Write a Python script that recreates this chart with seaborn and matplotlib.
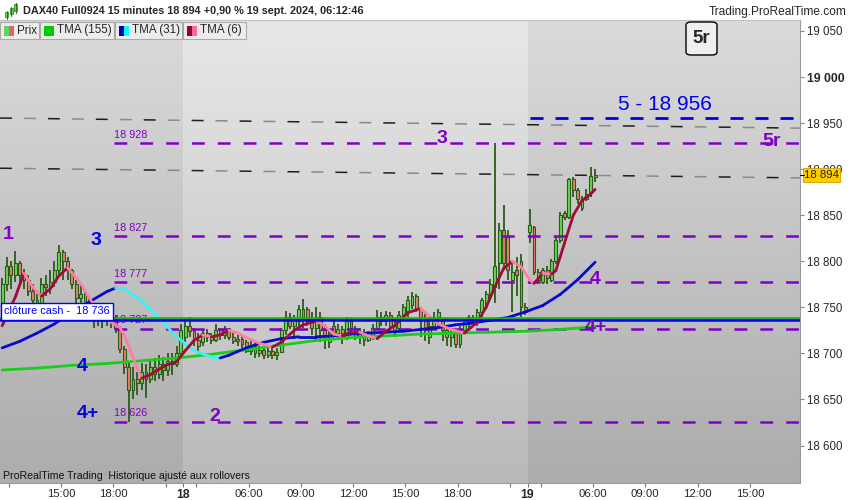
import numpy as np
import pandas as pd
import matplotlib
matplotlib.use("Agg")
import matplotlib.pyplot as plt
from matplotlib import font_manager
from matplotlib.collections import LineCollection
from matplotlib.colors import LinearSegmentedColormap
from matplotlib.patches import Rectangle, FancyBboxPatch
import seaborn as sns

# DAX40 Full0924, 15 min bars
# 17 sept 11:30-22:00 (42 bars), 18 sept 02:15-22:00 (79), 19 sept 02:15-06:15 (16)
opens = [
    18745, 18775, 18795, 18785, 18798, 18785, 18780, 18768, 18758, 18752,
    18775, 18772, 18778, 18790, 18810, 18800, 18790, 18775, 18760, 18765,
    18752, 18748, 18738, 18742, 18735, 18740, 18736, 18728, 18705, 18685,
    18660, 18672, 18668, 18680, 18672, 18685, 18678, 18688, 18682, 18692,
    18688, 18700,
    18718, 18730, 18724, 18715, 18712, 18722, 18718, 18714, 18725, 18720,
    18726, 18718, 18713, 18716, 18712, 18703, 18708, 18700, 18704, 18698,
    18703, 18698, 18702, 18725, 18740, 18730, 18735, 18748, 18748, 18735,
    18728, 18740, 18725, 18712, 18730, 18722, 18726, 18718, 18735, 18728,
    18718, 18722, 18715, 18718, 18728, 18740, 18735, 18742, 18730, 18728,
    18742, 18745, 18752, 18762, 18748, 18735, 18718, 18730, 18740, 18735,
    18725, 18718, 18722, 18710, 18725, 18732, 18738, 18736, 18745, 18755,
    18765, 18772, 18798, 18834, 18826, 18780, 18790, 18800, 18750,
    18832, 18837, 18788, 18778, 18790, 18780, 18800, 18823, 18852, 18848,
    18889, 18877, 18858, 18868, 18875, 18892,
]
highs = [
    18782, 18805, 18800, 18811, 18800, 18792, 18785, 18775, 18765, 18782,
    18785, 18790, 18800, 18818, 18812, 18805, 18792, 18780, 18775, 18770,
    18760, 18752, 18750, 18748, 18748, 18745, 18742, 18730, 18708, 18690,
    18685, 18680, 18690, 18688, 18692, 18695, 18698, 18696, 18700, 18700,
    18708, 18732,
    18738, 18740, 18728, 18722, 18727, 18726, 18722, 18732, 18728, 18730,
    18728, 18722, 18720, 18720, 18714, 18715, 18712, 18708, 18707, 18706,
    18706, 18706, 18728, 18746, 18744, 18742, 18752, 18759, 18750, 18745,
    18750, 18745, 18732, 18726, 18735, 18732, 18730, 18740, 18738, 18730,
    18728, 18726, 18724, 18732, 18747, 18745, 18746, 18745, 18738, 18746,
    18754, 18762, 18767, 18765, 18750, 18745, 18735, 18745, 18748, 18738,
    18730, 18728, 18726, 18730, 18736, 18742, 18742, 18748, 18760, 18768,
    18781, 18928, 18842, 18861, 18834, 18800, 18805, 18808, 18755,
    18857, 18838, 18792, 18793, 18795, 18802, 18826, 18853, 18855, 18890,
    18891, 18880, 18871, 18878, 18902, 18900,
]
lows = [
    18740, 18768, 18770, 18778, 18775, 18770, 18762, 18742, 18740, 18750,
    18762, 18765, 18772, 18785, 18780, 18780, 18770, 18752, 18748, 18745,
    18738, 18728, 18730, 18728, 18730, 18728, 18722, 18700, 18678, 18626,
    18650, 18655, 18660, 18652, 18668, 18670, 18672, 18670, 18675, 18676,
    18685, 18698,
    18712, 18718, 18708, 18703, 18708, 18712, 18710, 18712, 18714, 18716,
    18714, 18710, 18708, 18706, 18700, 18698, 18695, 18696, 18694, 18695,
    18694, 18693, 18700, 18720, 18726, 18716, 18730, 18728, 18730, 18720,
    18712, 18712, 18705, 18706, 18718, 18715, 18710, 18715, 18722, 18714,
    18710, 18708, 18712, 18714, 18725, 18730, 18730, 18722, 18718, 18725,
    18738, 18740, 18748, 18745, 18718, 18713, 18710, 18725, 18730, 18713,
    18708, 18707, 18706, 18706, 18722, 18728, 18732, 18730, 18740, 18748,
    18758, 18755, 18770, 18790, 18780, 18745, 18762, 18740, 18742,
    18820, 18785, 18776, 18775, 18775, 18777, 18797, 18820, 18845, 18846,
    18870, 18862, 18855, 18865, 18870, 18886,
]
closes = [
    18775, 18795, 18785, 18798, 18785, 18780, 18768, 18758, 18752, 18775,
    18772, 18778, 18790, 18810, 18800, 18790, 18775, 18760, 18765, 18752,
    18748, 18738, 18742, 18735, 18740, 18736, 18728, 18705, 18685, 18660,
    18672, 18668, 18680, 18672, 18685, 18678, 18688, 18682, 18692, 18688,
    18700, 18725,
    18730, 18724, 18715, 18708, 18722, 18718, 18714, 18725, 18720, 18726,
    18718, 18713, 18716, 18710, 18703, 18708, 18700, 18704, 18698, 18703,
    18698, 18702, 18725, 18740, 18730, 18738, 18748, 18740, 18735, 18728,
    18740, 18725, 18715, 18722, 18722, 18726, 18718, 18735, 18728, 18718,
    18722, 18715, 18720, 18728, 18740, 18735, 18742, 18730, 18725, 18742,
    18750, 18758, 18762, 18748, 18735, 18725, 18730, 18738, 18745, 18725,
    18718, 18722, 18710, 18725, 18732, 18740, 18736, 18745, 18758, 18765,
    18775, 18795, 18834, 18798, 18790, 18788, 18785, 18750, 18745,
    18839, 18788, 18780, 18790, 18782, 18800, 18823, 18850, 18848, 18889,
    18877, 18868, 18868, 18873, 18893, 18894,
]

# moving averages (bar index, value)
tma155_bar = [0, 8, 16, 24, 32, 40, 48, 56, 64, 72, 80, 88, 96, 104, 112, 120, 128, 136]
tma155 = [18682, 18684, 18687, 18689, 18692, 18695, 18699, 18704, 18709, 18714,
          18717, 18719, 18721, 18722, 18723, 18724, 18726, 18729]

tma31_bar = [0, 4, 8, 12, 16, 20, 24, 26, 28, 32, 36, 40, 44, 48, 50, 52, 56, 60, 64,
             68, 72, 76, 80, 84, 88, 92, 96, 100, 104, 108, 112, 116, 120, 124, 128, 132, 136]
tma31 = [18706, 18713, 18722, 18732, 18745, 18756, 18767, 18771, 18770, 18757, 18738,
         18718, 18703, 18696, 18695, 18698, 18706, 18712, 18716, 18718, 18718, 18719,
         18721, 18722, 18723, 18724, 18726, 18728, 18731, 18733, 18736, 18739, 18745,
         18752, 18764, 18780, 18799]

tma6_bar = [0, 3, 5, 7, 9, 11, 13, 15, 18, 20, 23, 25, 27, 28, 29, 30, 31, 32, 34, 36,
            38, 40, 42, 44, 46, 48, 50, 52, 54, 56, 59, 62, 64, 67, 69, 72, 74, 76, 78, 80,
            82, 84, 86, 88, 90, 93, 96, 98, 100, 103, 106, 109, 111, 113, 115, 117, 119,
            121, 122, 124, 126, 127, 128, 129, 131, 133, 135, 136]
tma6 = [18730, 18761, 18787, 18772, 18762, 18770, 18784, 18793, 18776, 18760, 18740,
        18734, 18728, 18720, 18708, 18696, 18683, 18673, 18677, 18683, 18688, 18691,
        18703, 18714, 18720, 18718, 18720, 18725, 18722, 18717, 18711, 18707, 18712,
        18725, 18731, 18735, 18730, 18721, 18719, 18723, 18723, 18719, 18716, 18724,
        18730, 18744, 18749, 18740, 18732, 18726, 18722, 18734, 18750, 18772, 18792,
        18800, 18794, 18780, 18776, 18787, 18786, 18790, 18805, 18820, 18850, 18866,
        18873, 18878]

# levels
purple_levels = [18928, 18827, 18777, 18727, 18626]
target_level = 18956
cash_close = 18736
cash_close_green = 18738.5
trend_upper = [18955.5, 18944.5]
trend_lower = [18901, 18890.5]
last_price = 18894

# ------------------------------------------------------------------
sns.set_style("white")
plt.rcParams["font.family"] = ["Liberation Sans", "DejaVu Sans"]
plt.rcParams["lines.scale_dashes"] = False


def has_font(name):
    try:
        font_manager.findfont(font_manager.FontProperties(family=name),
                              fallback_to_default=False)
        return True
    except ValueError:
        return False


NARROW = ["Liberation Sans Narrow", "DejaVu Sans"] if has_font("Liberation Sans Narrow") \
    else ["Liberation Sans", "DejaVu Sans"]

W, H = 850, 500
fig = plt.figure(figsize=(8.5, 5), dpi=100)
fig.patch.set_facecolor("white")
ax = fig.add_axes([0, 17 / H, 800 / W, 463 / H])

X0, X1 = -0.5, 183.0
Y0, Y1 = 18559.3, 19061.9
day_edges = [X0, 41.5, 120.5, X1]

# background: vertical gradient, alternating sessions
grad = np.linspace(0, 1, 256).reshape(-1, 1)
cm_dark = LinearSegmentedColormap.from_list("dk", ["#dbdbdb", "#acacac"])
cm_light = LinearSegmentedColormap.from_list("lt", ["#e8e8e8", "#b9b9b9"])
for k in range(3):
    ax.imshow(grad, extent=(day_edges[k], day_edges[k + 1], Y0, Y1),
              cmap=cm_light if k == 1 else cm_dark, aspect="auto",
              origin="upper", zorder=0, interpolation="bilinear")

# candles
WICK = "#2b5b19"
UP = "#5edc4c"
DOWN = "#e8806c"
o = np.array(opens, float)
c = np.array(closes, float)
hi = np.array(highs, float)
lo = np.array(lows, float)
bars = np.arange(len(c))
up = c >= o
body_lo = np.minimum(o, c)
body_h = np.maximum(np.abs(c - o), 1.3)
ax.vlines(bars, lo, hi, color=WICK, lw=1.3, zorder=2)
ax.bar(bars[up], body_h[up], bottom=body_lo[up], width=0.66, color=UP,
       edgecolor=WICK, linewidth=0.8, zorder=2.5)
ax.bar(bars[~up], body_h[~up], bottom=body_lo[~up], width=0.66, color=DOWN,
       edgecolor=WICK, linewidth=0.8, zorder=2.5)

# trend lines (alternating black / grey dashes)
for tl in (trend_upper, trend_lower):
    ax.plot([X0, X1], tl, color="#1e1e1e", lw=1.1, linestyle=(0, (8.6, 25.9)), zorder=3)
    ax.plot([X0, X1], tl, color="#8a8a8a", lw=1.1, linestyle=(17.3, (8.6, 25.9)), zorder=3)

# purple levels
PURPLE = "#8000c8"
lvl_x = 25.6
for lv in purple_levels:
    ax.plot([lvl_x, X1], [lv, lv], color=PURPLE, lw=1.8,
            linestyle=(0, (9.2, 9.4)), zorder=3)
    ax.text(lvl_x, lv + 3.5, f"{lv:,}".replace(",", " "), color=PURPLE,
            fontsize=7.8, ha="left", va="bottom", zorder=2.9)

# target level
BLUE = "#0000ee"
ax.plot([121, X1], [target_level, target_level], color=BLUE, lw=2.0,
        linestyle=(0, (9.4, 8.6)), zorder=3)
ax.text(152, 18970, "5 - 18 956", color=BLUE, fontsize=15, ha="center",
        va="center", zorder=6)

# moving averages
df155 = pd.DataFrame({"bar": tma155_bar, "tma": tma155})
sns.lineplot(data=df155, x="bar", y="tma", color="#1ccc1c", lw=2.0, ax=ax,
             zorder=4, legend=False)


def two_tone(xs, ys, rise, fall, lw):
    pts = np.column_stack([xs, ys]).astype(float)
    segs = np.stack([pts[:-1], pts[1:]], axis=1)
    cols = [rise if b >= a else fall for a, b in zip(ys[:-1], ys[1:])]
    ax.add_collection(LineCollection(segs, colors=cols, linewidths=lw,
                                     zorder=4, capstyle="round"))


two_tone(tma31_bar, tma31, "#0a0acc", "#3ef0f6", 2.0)
two_tone(tma6_bar, tma6, "#9e0c3c", "#ff7fa0", 2.0)

# previous cash close
ax.plot([X0, X1], [cash_close_green] * 2, color="#23a823", lw=1.8, zorder=5)
ax.plot([X0, X1], [cash_close] * 2, color="#0000ff", lw=1.8, zorder=5)
ax.add_patch(Rectangle((X0 + 0.15, cash_close), 25.2 - X0, 18754.7 - cash_close,
                       facecolor="white", edgecolor="#0000ff", lw=1.0, zorder=6))
ax.text(0.4, 18745.8, "clôture cash -  18 736", color="#0000ff", fontsize=7.9,
        ha="left", va="center", zorder=7)

# wave labels
labels = [
    ("1", 1.4, 18829, PURPLE), ("3", 21.5, 18822, BLUE), ("4", 18.3, 18686, BLUE),
    ("4+", 19.7, 18635, BLUE), ("2", 48.8, 18632, PURPLE), ("3", 100.9, 18933, PURPLE),
    ("4", 136.0, 18780, PURPLE), ("4+", 136.2, 18728, PURPLE),
]
for txt, bx, py, col in labels:
    ax.text(bx, py, txt, color=col, fontsize=14, fontweight="bold",
            ha="center", va="center", zorder=6)
ax.text(176.6, 18929.5, "5r", color=PURPLE, fontsize=14, fontweight="bold",
        ha="center", va="center", zorder=2.8)

ax.text(0.2, 18567, "ProRealTime Trading  Historique ajusté aux rollovers",
        fontsize=7.6, family=NARROW, color="#111111", ha="left", va="center", zorder=6)

ax.set_xlim(X0, X1)
ax.set_ylim(Y0, Y1)
ax.set_xlabel("")
ax.set_ylabel("")

# x axis: session-aware positions
day_start = {17: (0, 11 * 60 + 30), 18: (42, 2 * 60 + 15), 19: (121, 2 * 60 + 15)}


def tpos(day, hh, mm=0):
    i0, m0 = day_start[day]
    return i0 - 0.5 + (hh * 60 + mm - m0) / 15


xticks = [(17, 15, "15:00"), (17, 18, "18:00"), (18, None, "18"), (18, 6, "06:00"),
          (18, 9, "09:00"), (18, 12, "12:00"), (18, 15, "15:00"), (18, 18, "18:00"),
          (19, None, "19"), (19, 6, "06:00"), (19, 9, "09:00"), (19, 12, "12:00"),
          (19, 15, "15:00")]
xpos = [tpos(d, 2, 15) if hh is None else tpos(d, hh) for d, hh, _ in xticks]
ax.set_xticks(xpos)
ax.set_xticklabels([t for _, _, t in xticks])
for lab in ax.get_xticklabels():
    if ":" in lab.get_text():
        lab.set_family(NARROW)
        lab.set_fontsize(8.2)
    else:
        lab.set_fontweight("bold")
        lab.set_fontsize(8.8)
ax.set_xticks([tpos(17, 12), tpos(17, 21), tpos(18, 3), tpos(18, 21), tpos(19, 3)],
              minor=True)
ax.tick_params(axis="x", which="both", direction="out", length=3, width=0.8,
               color="#777777", pad=1.0, bottom=True)

# y axis on the right
yt = list(range(18600, 19051, 50))
ax.yaxis.tick_right()
ax.set_yticks(yt)
ax.set_yticklabels([f"{v:,}".replace(",", " ") for v in yt])
ax.tick_params(axis="y", direction="out", length=3, width=0.8, color="#888888",
               pad=2, labelsize=8.3, right=True, left=False)
for lab in ax.get_yticklabels():
    if lab.get_text() == "19 000":
        lab.set_fontweight("bold")
        lab.set_fontsize(8.8)

ax.spines["left"].set_visible(False)
ax.spines["right"].set_color("#9a9a9a")
ax.spines["bottom"].set_color("#9a9a9a")
ax.spines["top"].set_color("#c0c0c0")


# ---- overlays in figure pixel space ----
def fx(x):
    return x / W


def fy(y):
    return 1 - y / H


def frect(x, y, w, h, **kw):
    fig.add_artist(Rectangle((fx(x), fy(y + h)), w / W, h / H,
                             transform=fig.transFigure, **kw))


# header
fig.text(fx(23), fy(11), "DAX40 Full0924 15 minutes 18 894 +0,90 % 19 sept. 2024, 06:12:46",
         fontsize=7.8, fontweight="bold", ha="left", va="center")
fig.text(fx(847), fy(12), "Trading.ProRealTime.com", fontsize=8.6, ha="right", va="center")
for cx, top, bot in ((6.5, 12, 17), (11, 8, 14), (15.5, 4, 11)):
    fig.add_artist(plt.Line2D([fx(cx), fx(cx)], [fy(top - 1.5), fy(bot + 1.5)],
                              transform=fig.transFigure, color="#2b7a19", lw=0.8))
    frect(cx - 1.5, top, 3, bot - top, facecolor="#5edc4c", edgecolor="#2b7a19", lw=0.5)

# legend row
legend_items = [
    (0, 39, "Prix", ("#5cd65c", "#e06666")),
    (40, 74, "TMA (155)", ("#00cc00", "#00cc00")),
    (115, 67, "TMA (31)", ("#0000cc", "#00ffff")),
    (183, 63, "TMA (6)", ("#990033", "#ff6699")),
]
for x, w, name, (c1, c2) in legend_items:
    frect(x, 22, w, 17, facecolor="#ececec", edgecolor="#a9a9a9", lw=0.8, zorder=5)
    frect(x + 4, 26, 5, 10, facecolor=c1, edgecolor="none", zorder=6)
    frect(x + 9, 26, 5, 10, facecolor=c2, edgecolor="none", zorder=6)
    fig.text(fx(x + 17), fy(30.5), name, fontsize=8.4, ha="left", va="center",
             zorder=7)

# "5r" box
fig.add_artist(FancyBboxPatch((fx(686), fy(55)), 31 / W, 33 / H,
                              boxstyle="round,pad=0,rounding_size=0.006",
                              transform=fig.transFigure, facecolor="#efefef",
                              edgecolor="black", lw=1.0, zorder=5))
fig.text(fx(701.5), fy(38.5), "5r", fontsize=13.5, fontweight="bold",
         ha="center", va="center", zorder=6)

# last price tag (covers the 18 900 tick label, as on the original)
frect(803, 168, 37, 14, facecolor="#ffcc00", edgecolor="#d0a000", lw=0.6, zorder=5)
fig.add_artist(plt.Line2D([fx(800), fx(804)], [fy(175), fy(175)],
                          transform=fig.transFigure, color="black", lw=0.8, zorder=5))
fig.text(fx(821.5), fy(175), f"{last_price:,}".replace(",", " "), fontsize=8.2,
         ha="center", va="center", zorder=6)

fig.savefig("out.png", dpi=100)
